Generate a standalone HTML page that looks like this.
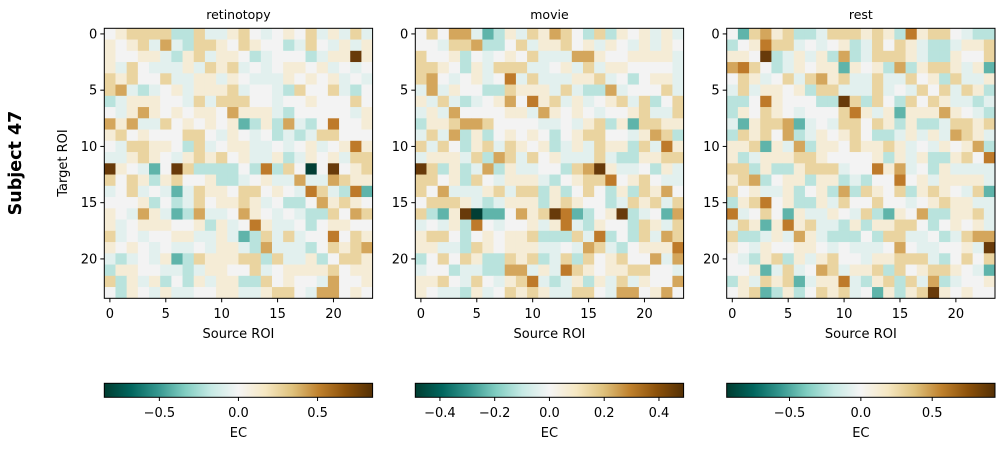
<!DOCTYPE html>
<html><head><meta charset="utf-8"><style>
html,body{margin:0;padding:0;background:#fff;}
svg text{font-family:"DejaVu Sans","Liberation Sans",sans-serif;fill:#000;}
</style></head><body>
<svg id="s" width="1004" height="450" xmlns="http://www.w3.org/2000/svg">
<defs>
<linearGradient id="g" x1="0" x2="1" y1="0" y2="0">
<stop offset="0" stop-color="rgb(0,60,48)"/>
<stop offset="0.1" stop-color="rgb(1,102,94)"/>
<stop offset="0.2" stop-color="rgb(53,151,143)"/>
<stop offset="0.3" stop-color="rgb(128,205,193)"/>
<stop offset="0.4" stop-color="rgb(199,234,229)"/>
<stop offset="0.5" stop-color="rgb(245,245,245)"/>
<stop offset="0.6" stop-color="rgb(246,232,195)"/>
<stop offset="0.7" stop-color="rgb(223,194,125)"/>
<stop offset="0.8" stop-color="rgb(191,129,45)"/>
<stop offset="0.9" stop-color="rgb(140,81,10)"/>
<stop offset="1" stop-color="rgb(84,48,5)"/>
</linearGradient>
</defs>
<text x="21" y="163" font-size="17.5" font-weight="bold" text-anchor="middle" transform="rotate(-90 21 163)">Subject 47</text>
<text x="67" y="163" font-size="13" text-anchor="middle" transform="rotate(-90 67 163)">Target ROI</text>
</svg>
<script>
var D=[
[".yYYYYccYllyY.l.y.YlylYl","y.yYlolcYYy.Yy..clY.lyly","y..yylcyYlyy.cl...clyyBy","ylY.lllylYyYl.l.yy.yl.l.","YyY..Yllyyly.llly.y.yl.l","Yolcl.ylyyyYl..lcY..Ylc.","clyyy..lYlYYY..l..y...Y.",".lyoy.y.yy.oyyylc.....ly","oyollY.y.y.ytcycolc.O..y","yY.y...YY.ly.l.clclYY..",".lYYyy.cYl.yyll.l.yl.yOy","llyYy.lyYyY.yllycly.ylYY","By.lt.BYcccc.cOcY.T.B.yY","Y.YycyY..yccl.yllolloYyy","l.Yl.ltlYyy.YY.y.lOYlcOt","...yc.clY.yyYyl.cc.oyYy.","y.loyltcoll.oy.l.lccY.oY","yl.yyy..ycyl.Oyll.c.yy..","Yl.l..yyllyltcYlYl..O.Yy","y.y.l.ll.lyylcolllc.YyYo","lcl.lytcYyyyYYcYllyc.YYy","cyy..llclyy..Yl.yyyyY.yy","Ycylyc.cylyyccY.y..lo..y",".cy.lyll..yyllyYY.loo.y."],
[".Y.ooltcylYyoY.cYcy.ylyl","..lYYocc.YlyyY.yly.lyly.","Y..yc.l.y.Ylllooy..yyyyl","YYy.cylYYYll.ylYlyy....l","Yo.l.yl.OlYlllyyYl.c.yyl","loly..ccYyyylYlccol...Yl","ylYlcl.yo.OyYlyl.yYlYc.Y","lylo....yyloy.y.l..yYllY","cyyYooY....ll.lyYcytYYyy","lYlocyc.y.y.c.yYY..lyoYc","YlY.cyYlYy.yclylYyycYlOy","lyyylYcoYlY.ylllYlccyyYY","BYcyclocyll..cYoByll.cyl","YY.ycY.lyyylc.yYYO.yY.ll","Y.olllyYlYYcyc.Y.cycYyo.",".YYYylclyyycyYy..clYyYlY","YctyBTtt.oyYBOtc.yBcl.to","l.lycO.l..ylyOlcy..cYylY","yYY.c.y.yyYcccYlOc.cYloY","yyllcYy.yyyll.loYlc.yyyO","c.Y.YyccYyYclYcY.yY..olo","l..cllccoolylOYy.yyYY..l","yyY.lY.lyYOlclycylYly..o","y.llcyl.YyYyllYY.loo.yo."],
[".tYoyYcclYYYyYycOyYY.lcc","c.yOYYl.l.yclY.YylcclyyY","yy.BclylycoclYYYylccy..Y","oOY.cly.yyty.ycocyYYylyt",".Yyl.YlYoyYllYllY.ycYlly","lYlyy.ycYYlllYl.lY.YlYyc","cc.Oy...ccBYcY.cY.Yyllcl","cy.Yy.l...YOylytyyyoy.lc","ltyYYotl.lYY.YycycclYYyY","cYyY.ocly.yY.cclylyloYyl","yyYtylocyy.YyyYyl.ly.yoc","yclyyyYYy....ycylyccyY.O","YYcyccyYYYl..Oyol.cyllll","yYoc.yycyyclc..O.ylyyyyl","Y.yllyc.ycocYy.YcyYy.lYt","cyYO.yccylY..Y..l.yYyyll","Ol.Y.tylly.lYcty.occyyYl","lYytyOyYllcycyyYY.c.y.yl","Ycclyloylccc.cYYll.clYoo","y.ly..yy.l.lll.o.ll..ylB",".lcyYcylyY..lyyYYYlc.Y.Y","..ytlYl.oYlyyYcY.yYYy.lt","cylYyYtlyyOlcyYcYlocl..y",".yYtcyc.YyYl.tycyYBy.y.."]
];
var C={"T":"rgb(2,62,52)","t":"rgb(95,180,170)","c":"rgb(185,227,221)","l":"rgb(226,240,238)",".":"rgb(243,243,243)","y":"rgb(245,236,214)","Y":"rgb(234,212,160)","o":"rgb(212,166,92)","O":"rgb(190,122,42)","B":"rgb(104,58,10)"};
var X=[104.3,415.3,726.7],W=268.3,Y0=28.3,H=270;
var titles=["retinotopy","movie","rest"];
var cb=[[[-0.5,0,0.5],0.848],[[-0.4,-0.2,0,0.2,0.4],0.49],[[-0.5,0,0.5],0.94]];
var s=document.getElementById("s"),h="";
function fmt(v){var t=v.toFixed(1);return v<0?"\u2212"+t.slice(1):t;}
for(var p=0;p<3;p++){
 var x0=X[p],cw=W/24,ch=H/24;
 for(var r=0;r<24;r++){var row=D[p][r];for(var c=0;c<24;c++){var k=row[c]||".";
  h+='<rect x="'+(x0+c*cw).toFixed(2)+'" y="'+(Y0+r*ch).toFixed(2)+'" width="'+(cw+0.4).toFixed(2)+'" height="'+(ch+0.4).toFixed(2)+'" fill="'+C[k]+'"/>';}}
 h+='<rect x="'+x0+'" y="'+Y0+'" width="'+W+'" height="'+H+'" fill="none" stroke="#000" stroke-width="1"/>';
 h+='<text x="'+(x0+W/2)+'" y="19" font-size="12.5" text-anchor="middle">'+titles[p]+'</text>';
 for(var i=0;i<=20;i+=5){var tx=x0+(i+0.5)*cw;
  h+='<line x1="'+tx+'" x2="'+tx+'" y1="'+(Y0+H)+'" y2="'+(Y0+H+4)+'" stroke="#000"/>';
  h+='<text x="'+tx+'" y="318" font-size="13" text-anchor="middle">'+i+'</text>';
  var ty=Y0+(i+0.5)*ch;
  h+='<line x1="'+(x0-4)+'" x2="'+x0+'" y1="'+ty+'" y2="'+ty+'" stroke="#000"/>';
  h+='<text x="'+(x0-7)+'" y="'+(ty+4.5)+'" font-size="13" text-anchor="end">'+i+'</text>';}
 h+='<text x="'+(x0+W/2)+'" y="338" font-size="13" text-anchor="middle">Source ROI</text>';
 h+='<rect x="'+x0+'" y="383.3" width="'+W+'" height="14" fill="url(#g)" stroke="#000" stroke-width="1"/>';
 var vm=cb[p][1];
 cb[p][0].forEach(function(v){var tx=x0+W/2+v/vm*W/2;
  h+='<line x1="'+tx+'" x2="'+tx+'" y1="397.3" y2="401" stroke="#000"/>';
  h+='<text x="'+tx+'" y="417" font-size="13" text-anchor="middle">'+fmt(v)+'</text>';});
 h+='<text x="'+(x0+W/2)+'" y="437" font-size="13" text-anchor="middle">EC</text>';
}
s.insertAdjacentHTML("beforeend",h);
</script>
</body></html>
